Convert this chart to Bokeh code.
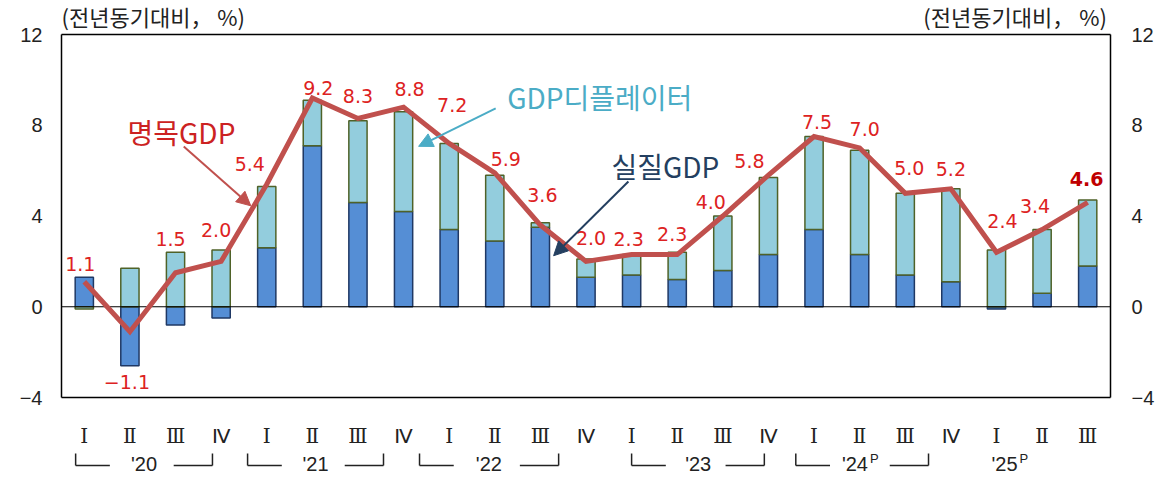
from bokeh.plotting import figure
from bokeh.models import Range1d, LinearAxis, FixedTicker, ColumnDataSource, Arrow, NormalHead
from bokeh.core.properties import value
from bokeh.embed import file_html
from bokeh.resources import INLINE
import numpy as np

# ---------------- data ----------------
quarters = ["Ⅰ", "Ⅱ", "Ⅲ", "Ⅳ"] * 5 + ["Ⅰ", "Ⅱ", "Ⅲ"]
years = ["'20", "'21", "'22", "'23", "'24", "'25"]
year_sup = ["", "", "", "", "P", "P"]
real_gdp = [1.3, -2.6, -0.8, -0.5, 2.6, 7.1, 4.6, 4.2, 3.4, 2.9, 3.5, 1.3,
            1.4, 1.2, 1.6, 2.3, 3.4, 2.3, 1.4, 1.1, -0.1, 0.6, 1.8]
deflator = [-0.1, 1.7, 2.4, 2.5, 2.7, 2.0, 3.6, 4.4, 3.8, 2.9, 0.2, 0.8,
            0.9, 1.2, 2.4, 3.4, 4.1, 4.6, 3.6, 4.1, 2.5, 2.8, 2.9]
nominal_gdp = [1.1, -1.1, 1.5, 2.0, 5.4, 9.2, 8.3, 8.8, 7.2, 5.9, 3.6, 2.0,
               2.3, 2.3, 4.0, 5.8, 7.5, 7.0, 5.0, 5.2, 2.4, 3.4, 4.6]
y_ticks = [-4, 0, 4, 8, 12]
unit_label = "(전년동기대비， %)"

# ---------------- layout / style (not data) ----------------
label_dx = [-4, -3, -5, -5, -17, 6, 0, 6, 3, 11, 2, 5, -3, -5, -12, -19, 3, 5, 4, 0, 6, -7, -1]
label_dy = [-18, 50, -34, -31, -20, -10, -22, -18, -38, -14, -30, -23, -16, -21, -14, -14,
            -15, -19, -25, -20, -31, -24, -23]
bracket_left = [-0.19, 3.58, 7.35, 12.0, 15.6]
bracket_right = [2.81, 6.56, 10.40, 14.91, 18.51]
year_text_x = [1.31, 5.07, 8.87, 13.46, 17.05, 20.33]

OX, OY = 2, 2                     # observed canvas origin in the screenshot
px_x = 1049 / 23.0
px_y = 363 / 16.0
F_L, F_R, F_T, F_B = 60, 1115, 4, 476   # desired frame edges (screenshot px)
W = 1162
ML = F_L - OX
MR = W - (F_R - OX)
MT = F_T - OY
H = MT + (F_B - F_T)
x0 = -0.5 - (63 - F_L) / px_x
x1 = 22.5 + (F_R - 1112) / px_x
y_top = 12 + (36 - F_T) / px_y
y_bot = -4 - (F_B - 399) / px_y

def py(v):
    return (308.25 - v) / px_y

n = len(real_gdp)
xs = np.arange(n)
real = np.array(real_gdp)
defl = np.array(deflator)
defl_bottom = np.where((defl >= 0) & (real > 0), real, np.where((defl < 0) & (real < 0), real, 0.0))
defl_top = defl_bottom + defl

p = figure(width=W, height=H, output_backend="svg", toolbar_location=None,
           x_range=Range1d(x0, x1), y_range=Range1d(y_bot, y_top),
           min_border_left=ML, min_border_right=MR, min_border_top=MT, min_border_bottom=0)
p.outline_line_color = None
p.xgrid.visible = False
p.ygrid.visible = False
p.xaxis.visible = False
p.yaxis.visible = False
p.background_fill_color = "white"

tick_font = "Liberation Sans"
overrides = {t: (("−" + str(abs(t))) if t < 0 else str(t)) for t in y_ticks}
for side, standoff in (("left", 16), ("right", 18)):
    ax = LinearAxis(ticker=FixedTicker(ticks=y_ticks), major_label_overrides=overrides)
    ax.axis_line_color = None
    ax.major_tick_line_color = None
    ax.minor_tick_line_color = None
    ax.major_tick_out = 0
    ax.major_label_standoff = standoff
    ax.major_label_text_font = tick_font
    ax.major_label_text_font_size = "20px"
    ax.major_label_text_color = "#222222"
    p.add_layout(ax, side)

# plot box
p.segment(x0=[-0.5, -0.5, -0.5, 22.5], y0=[12, -4, -4, -4],
          x1=[22.5, 22.5, -0.5, 22.5], y1=[12, -4, 12, 12],
          line_color="black", line_width=1.5)

# bars
p.vbar(x=xs, bottom=0, top=real, width=0.4, fill_color="#558ed5",
       line_color="#1f3864", line_width=1.5)
p.vbar(x=xs, bottom=defl_bottom, top=defl_top, width=0.4, fill_color="#93cddd",
       line_color="#4f6228", line_width=1.5)

# zero line
p.segment(x0=[-0.5], y0=[0], x1=[22.5], y1=[0], line_color="black", line_width=1.2)

# nominal GDP line
p.line(x=xs, y=nominal_gdp, line_color="#c0504d", line_width=5, line_join="miter")

# data labels
lab = ColumnDataSource(dict(x=xs[:-1], y=nominal_gdp[:-1],
                            t=[("−" + f"{abs(v):.1f}") if v < 0 else f"{v:.1f}" for v in nominal_gdp[:-1]],
                            dx=label_dx[:-1], dy=label_dy[:-1]))
p.text(x="x", y="y", text="t", x_offset="dx", y_offset="dy", source=lab,
       text_font=value("DejaVu Sans"), text_font_size="19px", text_color="#dd2222",
       text_align="center", text_baseline="middle")
p.text(x=[xs[-1]], y=[nominal_gdp[-1]], text=[f"{nominal_gdp[-1]:.1f}"],
       x_offset=label_dx[-1], y_offset=label_dy[-1],
       text_font=value("DejaVu Sans"), text_font_size="19px", text_font_style="bold",
       text_color="#c00000", text_align="center", text_baseline="middle")

# unit labels
kr = value("Noto Sans CJK KR")
p.text(x=[-0.5], y=[py(17)], text=[unit_label], text_font=kr,
       text_font_size="22px", text_color="#222222", text_align="left", text_baseline="middle")
p.text(x=[22.42], y=[py(17)], text=[unit_label], text_font=kr,
       text_font_size="22px", text_color="#222222", text_align="right", text_baseline="middle")

# series annotations
p.text(x=[2.13], y=[py(133)], text=["명목GDP"], text_font=kr, text_font_size="28px",
       text_color="#cc2222", text_align="center", text_baseline="middle")
p.text(x=[11.30], y=[py(98)], text=["GDP디플레이터"], text_font=kr, text_font_size="28px",
       text_color="#4bacc6", text_align="center", text_baseline="middle")
p.text(x=[12.74], y=[py(167)], text=["실질GDP"], text_font=kr, text_font_size="28px",
       text_color="#243f60", text_align="center", text_baseline="middle")

for (xs0, ys0, xe, ye, col) in ((2.18, 7.06, 3.65, 4.45, "#c0504d"),
                                (9.02, 8.74, 7.33, 7.07, "#4bacc6"),
                                (11.93, 5.52, 10.29, 2.25, "#243f60")):
    p.add_layout(Arrow(end=NormalHead(size=14, fill_color=col, line_color=col),
                       x_start=xs0, y_start=ys0, x_end=xe, y_end=ye,
                       line_color=col, line_width=2))

# category axis (quarters)
y_q = py(437)
y_yr = py(465)
y_br_top = py(455)
y_br_bot = py(467)
serif_idx = [i for i, q in enumerate(quarters) if q != "Ⅳ"]
sans_idx = [i for i, q in enumerate(quarters) if q == "Ⅳ"]
p.text(x=[xs[i] for i in serif_idx], y=[y_q] * len(serif_idx),
       text=[quarters[i] for i in serif_idx], text_font=value("DejaVu Serif"),
       text_font_size="20px", text_color="#222222", text_align="center", text_baseline="middle")
p.text(x=[xs[i] for i in sans_idx], y=[y_q] * len(sans_idx),
       text=[quarters[i] for i in sans_idx], text_font=value("DejaVu Sans"),
       text_font_size="20px", text_color="#222222", text_align="center", text_baseline="middle")

# year labels with brackets
bx0, by0, bx1, by1 = [], [], [], []
for L, R in zip(bracket_left, bracket_right):
    bx0 += [L, L, R - 0.85, R]
    by0 += [y_br_top, y_br_bot, y_br_bot, y_br_bot]
    bx1 += [L, L + 0.75, R, R]
    by1 += [y_br_bot, y_br_bot, y_br_bot, y_br_top]
p.segment(x0=bx0, y0=by0, x1=bx1, y1=by1, line_color="#222222", line_width=1.5)

yr_dx = [-7 if s else 0 for s in year_sup]
p.text(x=year_text_x, y=[y_yr] * len(years), text=years, x_offset=yr_dx,
       text_font=value(tick_font), text_font_size="20px", text_color="#222222",
       text_align="center", text_baseline="middle")
sup_x = [x for x, s in zip(year_text_x, year_sup) if s]
sup_t = [s for s in year_sup if s]
p.text(x=sup_x, y=[y_yr] * len(sup_x), text=sup_t, x_offset=8, y_offset=-5,
       text_font=value(tick_font), text_font_size="13px", text_color="#222222",
       text_align="left", text_baseline="middle")

open("out.html", "w").write(file_html(p, INLINE))
